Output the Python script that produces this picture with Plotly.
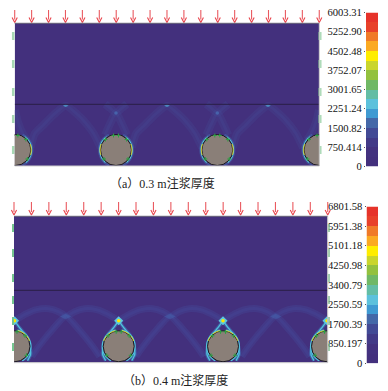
import numpy as np
import plotly.graph_objects as go

W, H = 388, 391
# ---------- data (page-pixel model units) ----------
max_a = 6003.31
max_b = 6801.58
tick_a = ["0", "750.414", "1500.82", "2251.24", "3001.65", "3752.07", "4502.48", "5252.90", "6003.31"]
tick_b = ["0", "850.197", "1700.39", "2550.59", "3400.79", "4250.98", "5101.18", "5951.38", "6801.58"]
band_colors = ["#43307d", "#43327f", "#423a87", "#424a95", "#4468a8", "#3f9ad2", "#5cc1dc", "#63bda5",
               "#6fb866", "#93c13e", "#c9d52c", "#ffed00", "#fbaa22", "#f07a28", "#e8412a", "#e6332a"]
caption_a = "（a）0.3 m注浆厚度"
caption_b = "（b）0.4 m注浆厚度"

centers_a = [15.4, 116.0, 217.3, 319.5]
centers_b = [14.5, 118.7, 223.0, 327.0]
cy_a, cy_b = 150.0, 346.3
radius = 15.5

peaks_a = [65.7, 167.0, 268.0]
spots_a = [116.0, 217.3]
xpts_b = [14.5, 118.7, 223.0, 327.0]
blobs_b = [65.7, 170.0, 275.7]

# band offsets relative to peak/crossing points
arch_dx = [-35, -31, -23, -12, 0, 12, 18, 28, 35]
arch_dy = [42, 28, 20, 9, 0, 9, 15, 28, 42]
spot_dx = [-11, -6, 0, 6, 11]
spot_dy_up = [-9, -5, 0, -5, -9]
spot_dy_dn = [22, 11, 0, 11, 22]
top_arc_dx = [0, 12, 22, 34, 44, 52]
top_arc_dy = [0, -7, -11, -12, -9, -4]
blob_dx = [-34, -27, -14, 0, 14, 27, 34]
blob_dy = [40, 30, 14, 0, 14, 30, 40]
arm_dx = [0, -5, -11, -15, -16, -13]
arm_dy = [0, 7, 14, 24, 34, 40]

arrow_top_a, arrow_bot_a = 10.0, 22.5
arrow_top_b, arrow_bot_b = 202.0, 215.0
arrows_a = [14.7 + 16.92 * i for i in range(19)]
arrows_b = [14.0 + 17.43 * i for i in range(19)]
marks_a_y = [36, 64, 92, 119, 150]
marks_b_y = [228, 253, 278, 300, 321, 347]

# ---------- geometry helpers ----------
PA = dict(x0=14.7, x1=319.3, y0=23.3, y1=166.0, line=104.3)
PB = dict(x0=14.0, x1=327.7, y0=216.3, y1=362.7, line=290.3)
CA = dict(x0=366.0, x1=378.0, y0=12.5, y1=166.5)
CB = dict(x0=366.5, x1=378.0, y0=206.5, y1=363.3)
FIELD = "#43307d"


def dom(p):
    return [p["x0"] / W, p["x1"] / W], [1 - p["y1"] / H, 1 - p["y0"] / H]


def join(groups):
    xs, ys = [], []
    for gx, gy in groups:
        xs += list(gx) + [None]
        ys += list(gy) + [None]
    return xs, ys


def arc(cx, cy, r, a0, a1, side):
    t = np.radians(np.linspace(a0, a1, 20))
    return cx + side * r * np.cos(t), cy - r * np.sin(t)


fig = go.Figure()


def line(xs, ys, color, width, ax):
    fig.add_trace(go.Scatter(x=xs, y=ys, mode="lines", line=dict(color=color, width=width, shape="spline", smoothing=0.6),
                             xaxis=ax[0], yaxis=ax[1], hoverinfo="skip", showlegend=False, connectgaps=False))


A, B = ("x", "y"), ("x2", "y2")

# ---------- panel a field ----------
g = [([p + d for d in arch_dx], [105.7 + d for d in arch_dy]) for p in peaks_a]
g += [([s + d for d in spot_dx], [113 + d for d in spot_dy_up]) for s in spots_a]
g += [([s + d for d in spot_dx], [113 + d for d in spot_dy_dn]) for s in spots_a]
g += [([15, 18, 23, 27], [110, 122, 134, 140]), ([319, 316, 311, 307], [110, 122, 134, 140])]
x, y = join(g)
line(x, y, "rgba(68,75,150,0.25)", 8, A)
line(x, y, "rgba(72,95,170,0.14)", 3, A)
fig.add_trace(go.Scatter(x=peaks_a, y=[105.7] * 3, mode="markers", marker=dict(color="rgba(80,170,215,0.7)", size=4, symbol="diamond-wide"),
                         xaxis="x", yaxis="y", hoverinfo="skip", showlegend=False))
fig.add_trace(go.Scatter(x=spots_a, y=[113, 113], mode="markers", marker=dict(color="rgba(75,120,190,0.6)", size=3.5),
                         xaxis="x", yaxis="y", hoverinfo="skip", showlegend=False))

for c in centers_a:
    for side in (1, -1):
        xa, ya = arc(c, cy_a, radius + 1.3, -65, 65, side)
        line(list(xa), list(ya), "rgba(70,150,210,0.3)", 2.5, A)
        xa, ya = arc(c, cy_a, radius + 0.8, -50, 55, side)
        line(list(xa), list(ya), "#55c2da", 1.1, A)

# ---------- panel b field ----------
g = []
for p in xpts_b:
    g.append(([p + d for d in top_arc_dx], [320.7 + d for d in top_arc_dy]))
    g.append(([p - d for d in top_arc_dx], [320.7 + d for d in top_arc_dy]))
for b in blobs_b:
    g.append(([b + d for d in blob_dx], [316.5 + d for d in blob_dy]))
x, y = join(g)
line(x, y, "rgba(68,80,160,0.3)", 7, B)
line(x, y, "rgba(70,100,175,0.14)", 3, B)
g = []
for p in xpts_b:
    g.append(([p + d for d in arm_dx], [320.7 + d for d in arm_dy]))
    g.append(([p - d for d in arm_dx], [320.7 + d for d in arm_dy]))
x, y = join(g)
line(x, y, "rgba(65,140,205,0.45)", 3.5, B)
line(x, y, "#4fc3dc", 1.3, B)
fig.add_trace(go.Scatter(x=blobs_b, y=[316.5] * 3, mode="markers", marker=dict(color="rgba(70,95,170,0.55)", size=8, symbol="diamond-wide"),
                         xaxis="x2", yaxis="y2", hoverinfo="skip", showlegend=False))
fig.add_trace(go.Scatter(x=xpts_b, y=[320.7] * 4, mode="markers", marker=dict(color="#5cc8de", size=7, symbol="diamond"),
                         xaxis="x2", yaxis="y2", hoverinfo="skip", showlegend=False))
fig.add_trace(go.Scatter(x=xpts_b, y=[320.7] * 4, mode="markers", marker=dict(color="#ffe600", size=3.5),
                         xaxis="x2", yaxis="y2", hoverinfo="skip", showlegend=False))
for c in centers_b:
    for side in (1, -1):
        xa, ya = arc(c, cy_b, radius + 0.9, -62, 80, side)
        line(list(xa), list(ya), "#52bfdc", 1.3, B)

# ---------- shapes: field background, tunnel liners, yellow rims, crosses ----------
shapes = []
for p, xr, yr in ((PA, "x", "y"), (PB, "x2", "y2")):
    shapes.append(dict(type="rect", xref=xr, yref=yr, x0=p["x0"], x1=p["x1"], y0=p["y0"], y1=p["y1"],
                       fillcolor=FIELD, line=dict(width=0), layer="below"))
for cs, cy, xr, yr in ((centers_a, cy_a, "x", "y"), (centers_b, cy_b, "x2", "y2")):
    for c in cs:
        shapes.append(dict(type="circle", xref=xr, yref=yr, x0=c - radius, x1=c + radius, y0=cy - radius, y1=cy + radius,
                           fillcolor="#8a7f78", line=dict(color="#1c1a22", width=1), layer="above"))


def rim(c, cy, a0, a1, side, color, xr, yr):
    xa, ya = arc(c, cy, radius + 0.4, a0, a1, side)
    path = "M " + " L ".join(f"{u:.2f},{v:.2f}" for u, v in zip(xa, ya))
    shapes.append(dict(type="path", path=path, xref=xr, yref=yr, line=dict(color=color, width=1.0), layer="above"))


for c in centers_a:
    for side in (1, -1):
        rim(c, cy_a, -18, 22, side, "#f4e020", "x", "y")
for c in centers_b:
    for side in (1, -1):
        rim(c, cy_b, 20, 78, side, "#f6e41c", "x2", "y2")

for cs, cy, xr, yr in ((centers_a, cy_a, "x", "y"), (centers_b, cy_b, "x2", "y2")):
    for c in cs:
        for dx, dy in ((-2.5, -14.5), (2.5, -14.5), (-12, 9), (12, 9), (-10.5, -10.5), (10.5, -10.5)):
            shapes.append(dict(type="line", xref=xr, yref=yr, x0=c + dx - 2, x1=c + dx + 2, y0=cy + dy, y1=cy + dy,
                               line=dict(color="#2f9e44", width=1), layer="above"))
            shapes.append(dict(type="line", xref=xr, yref=yr, x0=c + dx, x1=c + dx, y0=cy + dy - 2, y1=cy + dy + 2,
                               line=dict(color="#2f9e44", width=1), layer="above"))

for p, xr, yr in ((PA, "x", "y"), (PB, "x2", "y2")):
    shapes.append(dict(type="line", xref=xr, yref=yr, x0=p["x0"], x1=p["x1"], y0=p["line"], y1=p["line"],
                       line=dict(color="#2a1f45", width=1), layer="above"))
    shapes.append(dict(type="line", xref="x5", yref="y5", x0=p["x0"], x1=p["x1"], y0=p["y0"], y1=p["y0"],
                       line=dict(color="#5a5570", width=1), layer="above"))
    shapes.append(dict(type="line", xref="x5", yref="y5", x0=p["x0"], x1=p["x1"], y0=p["y1"], y1=p["y1"],
                       line=dict(color="#cfcfcf", width=1), layer="above"))
    shapes.append(dict(type="line", xref="x5", yref="y5", x0=p["x1"], x1=p["x1"], y0=p["y0"], y1=p["y1"],
                       line=dict(color="#c8c8c8", width=1), layer="above"))


# ---------- colour bars ----------
def colorbar(maxv, xa, ya):
    n = len(band_colors)
    edges = [maxv * i / n for i in range(n + 1)]
    z = [[i + 0.5] for i in range(n)]
    cs = []
    for i, c in enumerate(band_colors):
        cs += [[i / n, c], [(i + 1) / n, c]]
    fig.add_trace(go.Heatmap(z=z, x=[0, 1], y=edges, colorscale=cs, zmin=0, zmax=n, showscale=False,
                             xaxis=xa, yaxis=ya, hoverinfo="skip"))
    return [maxv * i / 8 for i in range(9)]


tv_a = colorbar(max_a, "x3", "y3")
tv_b = colorbar(max_b, "x4", "y4")

# ---------- page overlay: load arrows, side supports ----------
for xs, t, b, in ((arrows_a, arrow_top_a, arrow_bot_a), (arrows_b, arrow_top_b, arrow_bot_b)):
    gx, gy = join([([a, a], [t, b - 3]) for a in xs])
    fig.add_trace(go.Scatter(x=gx, y=gy, mode="lines", line=dict(color="#ea5a60", width=1.1), xaxis="x5", yaxis="y5",
                             hoverinfo="skip", showlegend=False))
    gx, gy = join([([a - 2.6, a, a + 2.6], [b - 5, b, b - 5]) for a in xs])
    fig.add_trace(go.Scatter(x=gx, y=gy, mode="lines", line=dict(color="#e8444c", width=1.1), xaxis="x5", yaxis="y5",
                             hoverinfo="skip", showlegend=False))

for px, ys, col, w in ((13.2, marks_a_y, "rgba(110,190,130,0.6)", 2.5), (319.8, marks_a_y, "rgba(110,190,130,0.55)", 3.5),
                       (13.0, marks_b_y, "rgba(40,165,80,0.8)", 1.6), (328.5, marks_b_y, "rgba(110,180,130,0.65)", 3)):
    gx, gy = join([([px, px], [v - 4, v + 4]) for v in ys])
    fig.add_trace(go.Scatter(x=gx, y=gy, mode="lines", line=dict(color=col, width=w), xaxis="x5", yaxis="y5",
                             hoverinfo="skip", showlegend=False))


# ---------- layout ----------
def pixel_axis(dm, rng):
    return dict(domain=dm, range=rng, visible=False, fixedrange=True, automargin=False)


ax, ay = dom(PA)
bx, by = dom(PB)
cax, cay = dom(CA)
cbx, cby = dom(CB)
bar_font = dict(family="Liberation Serif, serif", size=10.6, color="#111")


def bar_y(dm, maxv, vals, labels, anchor):
    return dict(domain=dm, range=[0, maxv], anchor=anchor, tickmode="array", tickvals=vals, ticktext=labels,
                ticks="outside", ticklen=1, tickcolor="#555", tickwidth=1, tickfont=bar_font, showgrid=False,
                zeroline=False, showline=False, side="left", fixedrange=True, automargin=False)


fig.update_layout(
    width=W, height=H, margin=dict(l=0, r=0, t=0, b=0), paper_bgcolor="white", plot_bgcolor="rgba(0,0,0,0)",
    showlegend=False, shapes=shapes,
    xaxis=pixel_axis(ax, [PA["x0"], PA["x1"]]), yaxis=dict(pixel_axis(ay, [PA["y1"], PA["y0"]]), anchor="x"),
    xaxis2=dict(pixel_axis(bx, [PB["x0"], PB["x1"]]), anchor="y2"), yaxis2=dict(pixel_axis(by, [PB["y1"], PB["y0"]]), anchor="x2"),
    xaxis3=dict(pixel_axis(cax, [0, 1]), anchor="y3"), yaxis3=bar_y(cay, max_a, tv_a, tick_a, "x3"),
    xaxis4=dict(pixel_axis(cbx, [0, 1]), anchor="y4"), yaxis4=bar_y(cby, max_b, tv_b, tick_b, "x4"),
    xaxis5=dict(pixel_axis([0, 1], [0, W]), anchor="y5"), yaxis5=dict(pixel_axis([0, 1], [H, 0]), anchor="x5"),
    annotations=[
        dict(text=caption_a, x=162, y=183, xref="x5", yref="y5", showarrow=False,
             font=dict(family="Liberation Serif, Noto Sans CJK SC", size=12, color="#222")),
        dict(text=caption_b, x=175, y=380, xref="x5", yref="y5", showarrow=False,
             font=dict(family="Liberation Serif, Noto Sans CJK SC", size=12, color="#222")),
    ],
)
fig.write_html("out.html", post_script="document.body.style.margin='0';", config={"displayModeBar": False})
